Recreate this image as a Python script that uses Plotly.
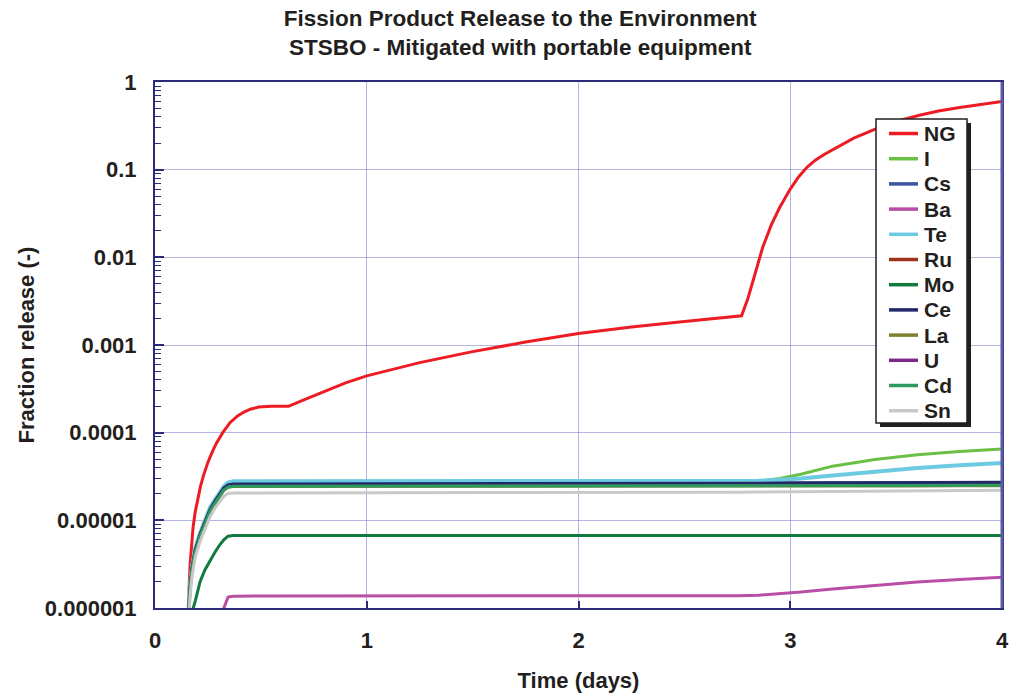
import plotly.graph_objects as go

# ---------------- data ----------------
series_names = ["NG", "I", "Cs", "Ba", "Te", "Ru", "Mo", "Ce", "La", "U", "Cd", "Sn"]

t_ng = [0.155, 0.158, 0.162, 0.166, 0.172, 0.18, 0.19, 0.2, 0.215, 0.23, 0.25, 0.27, 0.29,
        0.32, 0.354, 0.39, 0.42, 0.45, 0.49, 0.55, 0.63, 0.7, 0.8, 0.9, 1.0, 1.25, 1.5,
        1.75, 2.0, 2.25, 2.5, 2.67, 2.77, 2.8, 2.825, 2.87, 2.91, 2.95, 3.0, 3.04, 3.08,
        3.12, 3.16, 3.22, 3.3, 3.41, 3.5, 3.61, 3.7, 3.8, 3.9, 4.0]
ng = [5e-7, 1.2e-6, 2.0e-6, 3.2e-6, 5.2e-6, 8.4e-6, 1.25e-5, 1.7e-5, 2.45e-5, 3.3e-5,
      4.6e-5, 6.0e-5, 7.6e-5, 1.0e-4, 1.3e-4, 1.55e-4, 1.72e-4, 1.85e-4, 1.96e-4, 2.0e-4,
      2.0e-4, 2.35e-4, 2.95e-4, 3.7e-4, 4.45e-4, 6.3e-4, 8.4e-4, 1.08e-3, 1.35e-3, 1.6e-3,
      1.85e-3, 2.03e-3, 2.15e-3, 3.4e-3, 5.5e-3, 1.3e-2, 2.33e-2, 3.7e-2, 6.0e-2, 8.3e-2,
      0.107, 0.129, 0.149, 0.18, 0.229, 0.295, 0.356, 0.417, 0.467, 0.513, 0.556, 0.60]

t_fp = [0.155, 0.165, 0.175, 0.19, 0.213, 0.235, 0.26, 0.285, 0.307, 0.325, 0.345, 0.37,
        0.5, 1.0, 1.5, 2.0, 2.5, 2.75, 2.85, 2.95, 3.05, 3.2, 3.4, 3.6, 3.8, 4.0]

i_vals = [6e-7, 1.7e-6, 2.9e-6, 4.6e-6, 7.0e-6, 9.8e-6, 1.37e-5, 1.72e-5, 2.05e-5, 2.4e-5,
          2.65e-5, 2.75e-5, 2.75e-5, 2.75e-5, 2.75e-5, 2.75e-5, 2.75e-5, 2.75e-5, 2.8e-5,
          3.0e-5, 3.35e-5, 4.15e-5, 4.95e-5, 5.6e-5, 6.1e-5, 6.5e-5]
cs = [6e-7, 1.7e-6, 2.9e-6, 4.6e-6, 7.0e-6, 9.7e-6, 1.35e-5, 1.7e-5, 2.0e-5, 2.35e-5,
      2.55e-5, 2.62e-5, 2.63e-5, 2.63e-5, 2.64e-5, 2.64e-5, 2.65e-5, 2.65e-5, 2.66e-5,
      2.66e-5, 2.67e-5, 2.68e-5, 2.69e-5, 2.7e-5, 2.7e-5, 2.71e-5]
ba = [None, None, None, None, None, None, None, None, 1e-7, 1.0e-6, 1.33e-6, 1.36e-6,
      1.37e-6, 1.37e-6, 1.37e-6, 1.37e-6, 1.37e-6, 1.38e-6, 1.4e-6, 1.45e-6, 1.52e-6,
      1.65e-6, 1.82e-6, 1.98e-6, 2.12e-6, 2.25e-6]
te = [6e-7, 1.8e-6, 3.0e-6, 4.8e-6, 7.2e-6, 1.0e-5, 1.4e-5, 1.75e-5, 2.1e-5, 2.45e-5,
      2.7e-5, 2.8e-5, 2.8e-5, 2.8e-5, 2.8e-5, 2.8e-5, 2.8e-5, 2.8e-5, 2.82e-5, 2.9e-5,
      3.0e-5, 3.25e-5, 3.6e-5, 3.95e-5, 4.25e-5, 4.5e-5]
ru = [6e-7, 1.6e-6, 2.8e-6, 4.5e-6, 6.8e-6, 9.5e-6, 1.3e-5, 1.65e-5, 1.95e-5, 2.3e-5,
      2.5e-5, 2.55e-5, 2.55e-5, 2.55e-5, 2.55e-5, 2.55e-5, 2.56e-5, 2.56e-5, 2.57e-5,
      2.57e-5, 2.58e-5, 2.59e-5, 2.6e-5, 2.6e-5, 2.61e-5, 2.62e-5]
mo = [3e-7, 5e-7, 9e-7, 1.2e-6, 2.0e-6, 2.7e-6, 3.5e-6, 4.4e-6, 5.3e-6, 6.0e-6, 6.6e-6,
      6.7e-6, 6.7e-6, 6.7e-6, 6.7e-6, 6.7e-6, 6.7e-6, 6.7e-6, 6.7e-6, 6.7e-6, 6.7e-6,
      6.7e-6, 6.7e-6, 6.7e-6, 6.7e-6, 6.7e-6]
ce = [6e-7, 1.7e-6, 2.9e-6, 4.6e-6, 6.9e-6, 9.6e-6, 1.33e-5, 1.68e-5, 2.0e-5, 2.33e-5,
      2.53e-5, 2.6e-5, 2.6e-5, 2.6e-5, 2.61e-5, 2.62e-5, 2.63e-5, 2.64e-5, 2.65e-5,
      2.66e-5, 2.67e-5, 2.68e-5, 2.69e-5, 2.7e-5, 2.71e-5, 2.72e-5]
la = [6e-7, 1.6e-6, 2.7e-6, 4.3e-6, 6.5e-6, 9.0e-6, 1.25e-5, 1.58e-5, 1.9e-5, 2.2e-5,
      2.38e-5, 2.43e-5, 2.43e-5, 2.43e-5, 2.43e-5, 2.44e-5, 2.44e-5, 2.45e-5, 2.45e-5,
      2.45e-5, 2.46e-5, 2.46e-5, 2.47e-5, 2.47e-5, 2.48e-5, 2.48e-5]
u = [5e-7] * 26
cd = [6e-7, 1.6e-6, 2.7e-6, 4.3e-6, 6.6e-6, 9.1e-6, 1.27e-5, 1.6e-5, 1.92e-5, 2.22e-5,
      2.4e-5, 2.45e-5, 2.45e-5, 2.45e-5, 2.46e-5, 2.46e-5, 2.47e-5, 2.47e-5, 2.48e-5,
      2.48e-5, 2.49e-5, 2.49e-5, 2.5e-5, 2.5e-5, 2.51e-5, 2.52e-5]
sn = [5e-7, 1.3e-6, 2.3e-6, 3.8e-6, 5.8e-6, 8.0e-6, 1.1e-5, 1.4e-5, 1.65e-5, 1.88e-5,
      2.02e-5, 2.05e-5, 2.05e-5, 2.05e-5, 2.06e-5, 2.07e-5, 2.08e-5, 2.09e-5, 2.1e-5,
      2.11e-5, 2.12e-5, 2.13e-5, 2.15e-5, 2.17e-5, 2.19e-5, 2.21e-5]

y_tickvals = [1e-6, 1e-5, 1e-4, 1e-3, 1e-2, 1e-1, 1]
y_ticktext = ["0.000001", "0.00001", "0.0001", "0.001", "0.01", "0.1", "1"]
x_tickvals = [0, 1, 2, 3, 4]

# ---------------- styling ----------------
colors = {"NG": "#ed1c24", "I": "#6abf45", "Cs": "#3a53a4", "Ba": "#b94fa5",
          "Te": "#6ccbe0", "Ru": "#9e3420", "Mo": "#127a3e", "Ce": "#23286b",
          "La": "#7f7f2f", "U": "#7b2a8a", "Cd": "#2e9a5f", "Sn": "#c8c8c8"}
widths = {"Te": 4}

data_map = {"NG": (t_ng, ng), "I": (t_fp, i_vals), "Cs": (t_fp, cs), "Ba": (t_fp, ba),
            "Te": (t_fp, te), "Ru": (t_fp, ru), "Mo": (t_fp, mo), "Ce": (t_fp, ce),
            "La": (t_fp, la), "U": (t_fp, u), "Cd": (t_fp, cd), "Sn": (t_fp, sn)}

FONT = "Liberation Sans, Arial, sans-serif"
TXT = "#231f20"
AXIS = "#2b2b78"
GRID = "rgba(120,120,200,0.55)"

W, H = 1010, 696
ML, MR, MT, MB = 155, 8, 82, 88
PW, PH = W - ML - MR, H - MT - MB


def px_x(p):  # page pixel -> paper x
    return (p - ML) / PW


def px_y(p):  # page pixel -> paper y
    return (H - MB - p) / PH


fig = go.Figure()
for name in series_names:
    tx, vy = data_map[name]
    fig.add_trace(go.Scatter(x=tx, y=vy, mode="lines", name=name, showlegend=False,
                             line=dict(color=colors[name], width=widths.get(name, 3)),
                             connectgaps=False))

minor_vals = [k * 10.0 ** e for e in range(-6, 0) for k in range(2, 10)]

fig.update_layout(
    width=W, height=H, autosize=False,
    margin=dict(l=ML, r=MR, t=MT, b=MB, autoexpand=False),
    paper_bgcolor="white", plot_bgcolor="white",
    font=dict(family=FONT, size=20, color=TXT),
    title=dict(text="<b>Fission Product Release to the Environment<br>STSBO - Mitigated with portable equipment</b>",
               x=0.515, xanchor="center", xref="container", y=0.9626, yanchor="top",
               font=dict(family=FONT, size=22.5, color=TXT)),
    showlegend=False,
    xaxis=dict(range=[0, 4], tickvals=x_tickvals, ticktext=[f"<b>{v}</b>" for v in x_tickvals],
               automargin=False,
               showline=True, linecolor=AXIS, linewidth=2, mirror=True,
               ticks="inside", ticklen=7, tickcolor=AXIS, tickwidth=2,
               ticklabelstandoff=12,
               showgrid=True, gridcolor=GRID, gridwidth=1, zeroline=False,
               tickfont=dict(family=FONT, size=22, color=TXT),
               title=dict(text="<b>Time (days)</b>", standoff=20,
                          font=dict(family=FONT, size=22, color=TXT))),
    yaxis=dict(type="log", range=[-6, 0], tickvals=y_tickvals,
               ticktext=[f"<b>{s}</b>" for s in y_ticktext],
               automargin=False,
               showline=True, linecolor=AXIS, linewidth=2, mirror=True,
               ticks="inside", ticklen=9, tickcolor=AXIS, tickwidth=2,
               ticklabelstandoff=12,
               minor=dict(tickvals=minor_vals, ticks="inside", ticklen=6,
                          tickcolor=AXIS, tickwidth=1, showgrid=False),
               showgrid=True, gridcolor=GRID, gridwidth=1, zeroline=False,
               tickfont=dict(family=FONT, size=22, color=TXT),
               title=dict(text="<b>Fraction release (-)</b>", standoff=4,
                          font=dict(family=FONT, size=22, color=TXT))),
)

# right border in the bluish-purple tone of the reference
fig.add_shape(type="line", xref="paper", yref="paper", x0=1, x1=1, y0=0, y1=1,
              line=dict(color="#5a5aa5", width=3))

# ---- legend box (Excel style with drop shadow) ----
LB_L, LB_R, LB_T, LB_B = 876, 967, 119, 423
SH = 4
fig.add_shape(type="rect", xref="paper", yref="paper", layer="above",
              x0=px_x(LB_L + SH), x1=px_x(LB_R + SH), y0=px_y(LB_B + SH), y1=px_y(LB_T + SH),
              fillcolor=TXT, line=dict(width=0))
fig.add_shape(type="rect", xref="paper", yref="paper", layer="above",
              x0=px_x(LB_L), x1=px_x(LB_R), y0=px_y(LB_B), y1=px_y(LB_T),
              fillcolor="white", line=dict(color=TXT, width=1.5))
ITEM0, STEP = 133.5, 25.2
for i, name in enumerate(series_names):
    yy = px_y(ITEM0 + i * STEP)
    fig.add_shape(type="line", xref="paper", yref="paper", layer="above",
                  x0=px_x(889), x1=px_x(918), y0=yy, y1=yy,
                  line=dict(color=colors[name], width=3.5))
    fig.add_annotation(xref="paper", yref="paper", x=px_x(922), y=yy,
                       xanchor="left", yanchor="middle", showarrow=False,
                       text=f"<b>{name}</b>",
                       font=dict(family=FONT, size=21, color=TXT))

fig.write_html("out.html",
               config={"responsive": False, "displayModeBar": False},
               post_script="document.body.style.margin='0';document.body.style.overflow='hidden';")
